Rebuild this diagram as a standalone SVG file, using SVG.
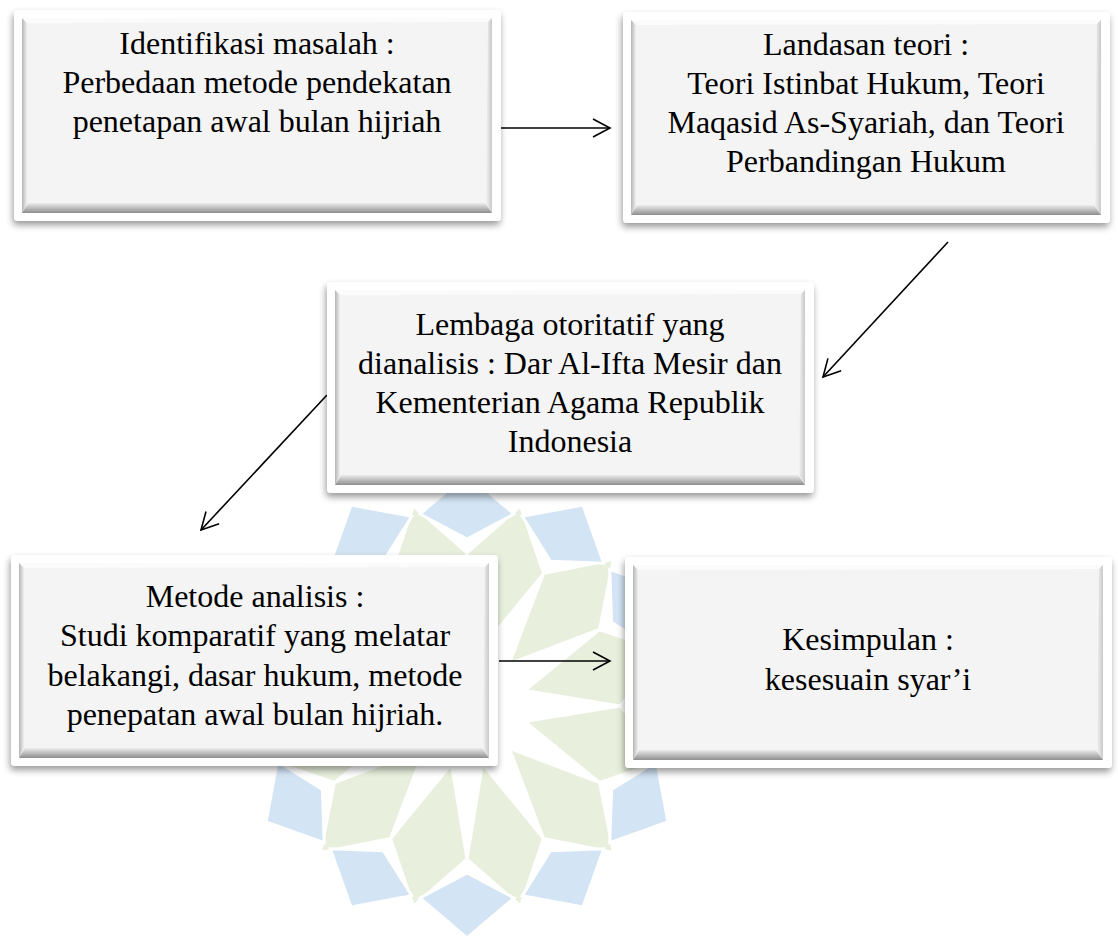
<svg xmlns="http://www.w3.org/2000/svg" width="1118" height="945" viewBox="0 0 1118 945">
<style>
.t{font-family:"Liberation Serif","Times New Roman",serif;font-size:32px;fill:#000;text-anchor:middle}
.wb{fill:#d3e4f4;stroke:#fff;stroke-width:3}
.wg{fill:#e8f0dd;stroke:#fff;stroke-width:3}
.c{stroke:#000;stroke-width:1.6;fill:none}
</style>
<defs>
<filter id="sh" x="-5%" y="-8%" width="110%" height="120%">
<feGaussianBlur in="SourceAlpha" stdDeviation="3.5"/>
<feOffset dx="-1" dy="4" result="b"/>
<feFlood flood-color="#000" flood-opacity="0.4"/>
<feComposite in2="b" operator="in"/>
<feMerge><feMergeNode/><feMergeNode in="SourceGraphic"/></feMerge>
</filter>
<linearGradient id="gb" x1="0" y1="0" x2="0" y2="1"><stop offset="0" stop-color="#ececec"/><stop offset="1" stop-color="#8e8e8e"/></linearGradient>
<linearGradient id="gl" x1="0" y1="0" x2="1" y2="0"><stop offset="0" stop-color="#b5b5b5"/><stop offset="1" stop-color="#f0f0f0"/></linearGradient>
<linearGradient id="gr" x1="0" y1="0" x2="1" y2="0"><stop offset="0" stop-color="#f2f2f2"/><stop offset="1" stop-color="#c9c9c9"/></linearGradient>
<marker id="ah" markerUnits="userSpaceOnUse" markerWidth="24" markerHeight="24" viewBox="-20 -12 24 24" refX="0" refY="0" orient="auto">
<path d="M-17,-9 L0,0 L-17,9" fill="none" stroke="#000" stroke-width="1.6"/>
</marker>
<g id="box">
<rect x="0" y="0" width="487" height="211" rx="4" fill="#fff" filter="url(#sh)"/>
<rect x="8" y="8" width="470" height="195" fill="#f4f4f4"/>
<polygon points="8,8 478,8 474,12 13,13" fill="#fbfbfb"/>
<polygon points="8,8 13,13 13,193 8,203" fill="url(#gl)"/>
<polygon points="478,8 478,203 472,193 474,12" fill="url(#gr)"/>
<polygon points="8,203 478,203 471,193 14,193" fill="url(#gb)"/>
</g>
<polygon id="rb" points="0,167 -47,192 0,232 47,192"/>
<polygon id="kt" points="0,60 -39.6,147.8 0,207 39.6,147.8"/>
</defs>
<rect width="1118" height="945" fill="#fff"/>
<g id="watermark" transform="translate(467,706)">
<g class="wg">
<use href="#kt" transform="rotate(15)"/><use href="#kt" transform="rotate(45)"/><use href="#kt" transform="rotate(75)"/><use href="#kt" transform="rotate(105)"/><use href="#kt" transform="rotate(135)"/><use href="#kt" transform="rotate(165)"/><use href="#kt" transform="rotate(195)"/><use href="#kt" transform="rotate(225)"/><use href="#kt" transform="rotate(255)"/><use href="#kt" transform="rotate(285)"/><use href="#kt" transform="rotate(315)"/><use href="#kt" transform="rotate(345)"/>
</g>
<g class="wb">
<use href="#rb"/><use href="#rb" transform="rotate(30)"/><use href="#rb" transform="rotate(60)"/><use href="#rb" transform="rotate(90)"/><use href="#rb" transform="rotate(120)"/><use href="#rb" transform="rotate(150)"/><use href="#rb" transform="rotate(180)"/><use href="#rb" transform="rotate(210)"/><use href="#rb" transform="rotate(240)"/><use href="#rb" transform="rotate(270)"/><use href="#rb" transform="rotate(300)"/><use href="#rb" transform="rotate(330)"/>
</g>
</g>
<g id="connectors">
<line class="c" x1="499" y1="128" x2="610" y2="128" marker-end="url(#ah)"/>
<line class="c" x1="948" y1="242" x2="823" y2="377" marker-end="url(#ah)"/>
<line class="c" x1="327" y1="395" x2="201" y2="530" marker-end="url(#ah)"/>
<line class="c" x1="499" y1="661" x2="610" y2="661" marker-end="url(#ah)"/>
</g>
<g id="n1">
<use href="#box" x="14" y="10"/>
<text class="t" x="257" y="54">Identifikasi masalah :</text>
<text class="t" x="257" y="93">Perbedaan metode pendekatan</text>
<text class="t" x="257" y="132">penetapan awal bulan hijriah</text>
</g>
<g id="n2">
<use href="#box" x="623" y="12"/>
<text class="t" x="866" y="55">Landasan teori :</text>
<text class="t" x="866" y="94">Teori Istinbat Hukum, Teori</text>
<text class="t" x="866" y="133">Maqasid As-Syariah, dan Teori</text>
<text class="t" x="866" y="172">Perbandingan Hukum</text>
</g>
<g id="n3">
<use href="#box" x="327" y="282"/>
<text class="t" x="570" y="335">Lembaga otoritatif yang</text>
<text class="t" x="570" y="374">dianalisis : Dar Al-Ifta Mesir dan</text>
<text class="t" x="570" y="413">Kementerian Agama Republik</text>
<text class="t" x="570" y="452">Indonesia</text>
</g>
<g id="n4">
<use href="#box" x="11" y="555"/>
<text class="t" x="255" y="607">Metode analisis :</text>
<text class="t" x="255" y="646">Studi komparatif yang melatar</text>
<text class="t" x="255" y="686">belakangi, dasar hukum, metode</text>
<text class="t" x="255" y="725">penepatan awal bulan hijriah.</text>
</g>
<g id="n5">
<use href="#box" x="625" y="557"/>
<text class="t" x="868" y="650">Kesimpulan :</text>
<text class="t" x="868" y="690">kesesuain syar’i</text>
</g>
</svg>
